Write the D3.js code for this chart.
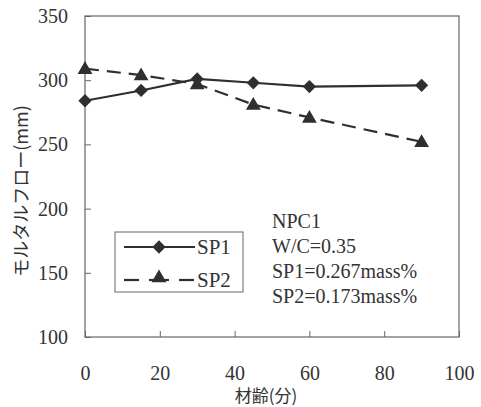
<!DOCTYPE html>
<html>
<head>
<meta charset="utf-8">
<script src="https://cdn.jsdelivr.net/npm/d3@7"></script>
<style>
  html, body { margin: 0; padding: 0; background: #fff; }
  svg { display: block; }
  text.latin { font-family: "Liberation Serif", "Times New Roman", Times, "DejaVu Serif", serif; fill: #333; }
  text.jp { font-family: "Noto Sans CJK JP", "Noto Sans CJK SC", sans-serif; fill: #333; }
</style>
</head>
<body>
<svg id="chart" width="481" height="407"></svg>
<script>
// Mortar flow (mm) versus elapsed time (min)
const ages = [0, 15, 30, 45, 60, 90];
const sp1Flow = [284, 292, 301, 298, 295, 296];
const sp2Flow = [309, 304, 297, 281, 271, 252];
const xTicks = [0, 20, 40, 60, 80, 100];
const yTicks = [100, 150, 200, 250, 300, 350];
const seriesNames = ["SP1", "SP2"];
const noteLines = ["NPC1", "W/C=0.35", "SP1=0.267mass%", "SP2=0.173mass%"];

const svg = d3.select("#chart");
const m = { left: 85, right: 459, top: 16, bottom: 337 };

const x = d3.scaleLinear().domain([0, 100]).range([m.left, m.right]);
const y = d3.scaleLinear().domain([100, 350]).range([m.bottom, m.top]);

const ink = "#2f2f2f";
const frameInk = "#666";

// plot frame
svg.append("rect")
  .attr("x", m.left).attr("y", m.top)
  .attr("width", m.right - m.left).attr("height", m.bottom - m.top)
  .attr("fill", "none").attr("stroke", frameInk).attr("stroke-width", 1.2);

// axes with inward ticks
const xAxis = svg.append("g")
  .attr("transform", `translate(0,${m.bottom})`)
  .call(d3.axisBottom(x).tickValues(xTicks).tickSizeInner(-6).tickSizeOuter(0).tickPadding(29));
const yAxis = svg.append("g")
  .attr("transform", `translate(${m.left},0)`)
  .call(d3.axisLeft(y).tickValues(yTicks).tickSizeInner(-6).tickSizeOuter(0).tickPadding(17));

[xAxis, yAxis].forEach(g => {
  g.attr("font-family", null).attr("font-size", null);
  g.select(".domain").remove();
  g.selectAll(".tick line").attr("stroke", frameInk).attr("stroke-width", 1);
  g.selectAll(".tick text")
    .attr("class", "latin")
    .attr("font-size", 20);
});

// axis titles
svg.append("text")
  .attr("class", "jp")
  .attr("x", 266).attr("y", 402)
  .attr("text-anchor", "middle")
  .attr("font-size", 17)
  .text("材齢(分)");

svg.append("text")
  .attr("class", "jp")
  .attr("transform", "translate(28,191) rotate(-90)")
  .attr("text-anchor", "middle")
  .attr("font-size", 18)
  .text("モルタルフロー(mm)");

// series
const line = d3.line().x(d => x(d[0])).y(d => y(d[1]));
const sp1Pts = ages.map((a, i) => [a, sp1Flow[i]]);
const sp2Pts = ages.map((a, i) => [a, sp2Flow[i]]);

// diamond = square turned 45 degrees
const diamond = d3.symbol().type(d3.symbolSquare).size(88);
const triangle = d3.symbol().type(d3.symbolTriangle).size(95);

svg.append("path").datum(sp2Pts)
  .attr("d", line).attr("fill", "none")
  .attr("stroke", ink).attr("stroke-width", 2.2)
  .attr("stroke-dasharray", "14,8");

svg.append("path").datum(sp1Pts)
  .attr("d", line).attr("fill", "none")
  .attr("stroke", ink).attr("stroke-width", 2.2);

svg.selectAll(".m2").data(sp2Pts).enter().append("path")
  .attr("transform", d => `translate(${x(d[0])},${y(d[1]) + 1})`)
  .attr("d", triangle).attr("fill", ink);

svg.selectAll(".m1").data(sp1Pts).enter().append("path")
  .attr("transform", d => `translate(${x(d[0])},${y(d[1])}) rotate(45)`)
  .attr("d", diamond).attr("fill", ink);

// legend
const lg = svg.append("g");
lg.append("rect")
  .attr("x", 115).attr("y", 232).attr("width", 128).attr("height", 60)
  .attr("fill", "#fff").attr("stroke", frameInk).attr("stroke-width", 1);

const rows = [247, 280];
// SP1 row
lg.append("line").attr("x1", 124).attr("x2", 195).attr("y1", rows[0]).attr("y2", rows[0])
  .attr("stroke", ink).attr("stroke-width", 2.2);
lg.append("path").attr("transform", `translate(159,${rows[0]}) rotate(45)`).attr("d", diamond).attr("fill", ink);
// SP2 row: dash, marker, dash
[[124, 139], [149, 169], [179, 194]].forEach(([a, b]) => {
  lg.append("line").attr("x1", a).attr("x2", b).attr("y1", rows[1]).attr("y2", rows[1])
    .attr("stroke", ink).attr("stroke-width", 2.2);
});
lg.append("path").attr("transform", `translate(159,${rows[1] - 2})`).attr("d", triangle).attr("fill", ink);

lg.selectAll(".lt").data(seriesNames).enter().append("text")
  .attr("class", "latin")
  .attr("x", 197).attr("y", (d, i) => rows[i] + 7)
  .attr("font-size", 21)
  .text(d => d);

// annotation
svg.selectAll(".note").data(noteLines).enter().append("text")
  .attr("class", "latin")
  .attr("x", 272).attr("y", (d, i) => 228 + i * 25)
  .attr("font-size", 20)
  .text(d => d);
</script>
</body>
</html>
